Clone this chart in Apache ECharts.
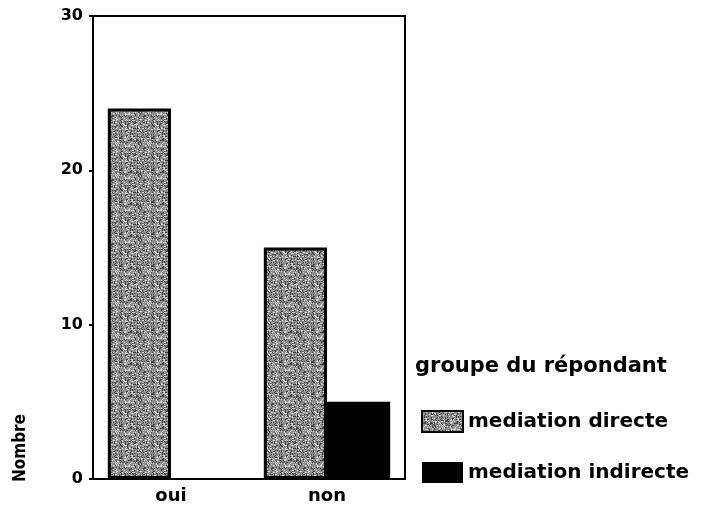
<!DOCTYPE html>
<html>
<head>
<meta charset="utf-8">
<script src="https://cdn.jsdelivr.net/npm/echarts@6/dist/echarts.min.js"></script>
<style>
  html, body { margin: 0; padding: 0; background: #fff; }
  #chart { width: 716px; height: 509px; }
</style>
</head>
<body>
<div id="chart"></div>
<script>
  // données
  const categories = ['oui', 'non'];
  const seriesNames = ['mediation directe', 'mediation indirecte'];
  const directe = [24, 15];
  const indirecte = [0, 5];
  const yTicks = [0, 10, 20, 30];

  // texture grise façon impression
  function makeTexture() {
    const c = document.createElement('canvas');
    c.width = 32; c.height = 32;
    const ctx = c.getContext('2d');
    ctx.fillStyle = '#8c8c8c';
    ctx.fillRect(0, 0, 32, 32);
    let s = 7;
    for (let y = 0; y < 32; y++) {
      for (let x = 0; x < 32; x++) {
        s = (s * 1103515245 + 12345) & 0x7fffffff;
        const v = s % 5;
        if (v === 0) { ctx.fillStyle = '#d0d0d0'; ctx.fillRect(x, y, 1, 1); }
        else if (v === 1) { ctx.fillStyle = '#454545'; ctx.fillRect(x, y, 1, 1); }
      }
    }
    return c;
  }
  const texture = makeTexture();

  const myChart = echarts.init(document.getElementById('chart'));
  myChart.setOption({
    animation: false,
    textStyle: { fontFamily: 'DejaVu Sans' },
    grid: {
      left: 93, right: 311, top: 16, bottom: 30,
      show: true, borderColor: '#000', borderWidth: 2
    },
    legend: {
      orient: 'vertical',
      left: 416, top: 405,
      icon: 'rect',
      itemWidth: 41, itemHeight: 21,
      itemGap: 29,
      data: seriesNames,
      textStyle: { fontSize: 20, fontWeight: 'bold', color: '#000', fontFamily: 'DejaVu Sans' }
    },
    graphic: [
      {
        type: 'text', left: 415, top: 356,
        style: { text: 'groupe du répondant', fontSize: 21, fontWeight: 'bold', fill: '#000', fontFamily: 'DejaVu Sans' }
      },
      {
        type: 'text', left: 12, top: 414,
        rotation: Math.PI / 2,
        style: { text: 'Nombre', fontSize: 17, fontWeight: 'bold', fill: '#000', fontFamily: 'DejaVu Sans Condensed' }
      }
    ],
    xAxis: {
      type: 'category',
      data: categories,
      axisLine: { lineStyle: { color: '#000', width: 2 } },
      axisTick: { alignWithLabel: true, length: 4, lineStyle: { color: '#000', width: 2 } },
      axisLabel: { fontSize: 18, fontWeight: 'bold', color: '#000', margin: 8 }
    },
    yAxis: {
      type: 'value',
      min: yTicks[0], max: yTicks[yTicks.length - 1], interval: 10,
      splitLine: { show: false },
      axisLine: { show: true, lineStyle: { color: '#000', width: 2 } },
      axisTick: { show: true, length: 4, lineStyle: { color: '#000', width: 2 } },
      axisLabel: { fontSize: 16, fontWeight: 'bold', color: '#000', margin: 10 }
    },
    series: [
      {
        name: seriesNames[0],
        type: 'bar',
        data: directe,
        barGap: '0%',
        barCategoryGap: '19%',
        itemStyle: { color: { image: texture, repeat: 'repeat' }, borderColor: '#000', borderWidth: 3 }
      },
      {
        name: seriesNames[1],
        type: 'bar',
        data: indirecte,
        itemStyle: { color: '#000', borderWidth: 0 }
      }
    ]
  });
</script>
</body>
</html>
